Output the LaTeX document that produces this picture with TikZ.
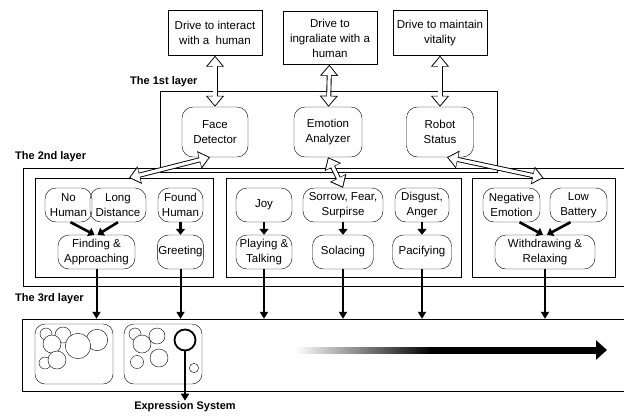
\documentclass[tikz,border=0pt]{standalone}
\usepackage{fontspec}
\setmainfont{Liberation Sans}
\usetikzlibrary{positioning,arrows.meta}

\tikzset{
  drive/.style={draw, align=center, minimum width=94pt, minimum height=45pt, inner sep=1pt, font=\fontsize{11.5}{15}\selectfont},
  module/.style={draw, rounded corners=11pt, align=center, minimum height=34pt, inner sep=1pt, font=\fontsize{11.5}{15}\selectfont},
  group/.style={draw, minimum height=99pt},
  layer/.style={draw},
  layername/.style={anchor=west, inner sep=0pt, font=\bfseries\fontsize{11}{13}\selectfont},
  hollow/.style={white, line width=3.2pt, shorten <=1.4pt, shorten >=1.4pt,
    {Triangle[length=9pt,width=14pt]}-{Triangle[length=9pt,width=14pt]},
    preaction={draw=black, line width=5pt, shorten <=0pt, shorten >=0pt,
      {Triangle[length=11pt,width=17.5pt]}-{Triangle[length=11pt,width=17.5pt]}}},
  push/.style={line width=2.6pt, -{Triangle[length=6pt,width=9pt]}},
  feed/.style={line width=2pt, -{Triangle[length=7pt,width=8pt]}},
  blob/.style={draw, fill=white},
}

\begin{document}
\begin{tikzpicture}[x=1pt, y=-1pt, node distance=47pt, on grid]
\useasboundingbox (0,0) rectangle (624,416);
% drives
\node[drive]                    (drv1) at (215,33) {Drive to interact\\with a\ \ human};
\node[drive, minimum height=53pt] (drv2) at (330,38) {Drive to\\ingraliate with a\\human};
\node[drive]                    (drv3) at (440,33) {Drive to maintain\\vitality};

% the 1st layer
\node[layer, minimum width=337pt, minimum height=81pt] (lay1) at (328.5,131.5) {};
\node[layername] (name1) at (130,82) {The 1st layer};
\node[module, minimum width=66pt, minimum height=50pt] (face)  at (215,132) {Face\\Detector};
\node[module, minimum width=68pt, minimum height=50pt] (emo)   at (328,132) {Emotion\\Analyzer};
\node[module, minimum width=67pt, minimum height=50pt] (robot) at (440,132) {Robot\\Status};

% the 2nd layer
\node[layer, minimum width=627pt, minimum height=118pt] (lay2) at (336.5,227) {};
\node[layername] (name2) at (15,157) {The 2nd layer};
\node[group, minimum width=178pt] (g1) at (124,227.5) {};
\node[group, minimum width=235pt] (g2) at (343.5,227.5) {};
\node[group, minimum width=143pt] (g3) at (543.5,227.5) {};

\node[module, minimum width=47pt]  (nohum)    at (68.5,205)  {No\\Human};
\node[module, minimum width=56pt]  (longd)    at (118,205)   {Long\\Distance};
\node[module, minimum width=45pt]  (found)    at (180.5,205) {Found\\Human};
\node[module, minimum width=77pt]  (finding)  at (96.5,252)  {Finding \&\\Approaching};
\node[module, minimum width=46pt]  (greet)    [below=of found]  {Greeting};
\node[module, minimum width=56pt]  (joy)      at (264,205)   {Joy};
\node[module, minimum width=56pt]  (play)     [below=of joy]    {Playing \&\\Talking};
\node[module, minimum width=80pt]  (sorrow)   at (343,205)   {Sorrow, Fear,\\Surpirse};
\node[module, minimum width=61pt]  (solace)   [below=of sorrow] {Solacing};
\node[module, minimum width=54pt]  (disg)     at (422,205)   {Disgust,\\Anger};
\node[module, minimum width=59pt]  (pacify)   [below=of disg]   {Pacifying};
\node[module, minimum width=57pt]  (nege)     at (511.5,205) {Negative\\Emotion};
\node[module, minimum width=57pt]  (lowb)     at (578.5,205) {Low\\Battery};
\node[module, minimum width=100pt] (withdraw) at (545,252)   {Withdrawing \&\\Relaxing};

% the 3rd layer
\node[layer, minimum width=628pt, minimum height=72pt] (lay3) at (336,355) {};
\node[layername] (name3) at (15,299) {The 3rd layer};
\node[draw, rounded corners=10pt, minimum width=78pt, minimum height=60pt] (pool1) at (74,354) {};
\node[draw, rounded corners=10pt, minimum width=78pt, minimum height=60pt] (pool2) at (163,354) {};
\foreach \cx/\cy/\r in {46/334/6, 45/363/6, 63/335/8, 52/344/9, 57/360/9, 97/340/10.7, 78/346/12.7,
                        135/334/6, 137/362/6.5, 157/336/8, 142/344/9, 159/358/9, 194/368/4.7}
  \draw[blob] (\cx,\cy) circle[radius=\r];
\node[draw, circle, line width=1.8pt, minimum size=21pt, inner sep=0pt] (focus) at (185,340) {};
\node[inner sep=1pt, font=\bfseries\fontsize{11}{13}\selectfont] (expr) at (185,407) {Expression System};

% trend arrow
\coordinate (fadeM) at (430,350);
\coordinate (fadeR) at (607,350);
\shade[left color=white, right color=black] (295,347) rectangle (432,353);
\draw[line width=7pt, -{Triangle[length=11pt,width=19pt]}] (fadeM) -- (fadeR);

% hollow links
\draw[hollow] (drv1) -- (face);
\draw[hollow] (drv2) -- (emo);
\draw[hollow] (drv3) -- (robot);
\draw[hollow] ([xshift=-5pt]face.south) -- ([xshift=5pt]g1.north);
\draw[hollow] (emo.south) -- (sorrow.north);
\draw[hollow] ([xshift=7pt]robot.south) -- (g3.north);

% behaviours
\draw[push] ([xshift=2pt]nohum.south) -- ([xshift=-2pt]finding.north);
\draw[push] (longd.south) -- ([xshift=1pt]finding.north);
\draw[push] (found) -- (greet);
\draw[push] (joy) -- (play);
\draw[push] (sorrow) -- (solace);
\draw[push] (disg) -- (pacify);
\draw[push] ([xshift=8pt]nege.south) -- ([xshift=-2pt]withdraw.north);
\draw[push] ([xshift=-8pt]lowb.south) -- ([xshift=2pt]withdraw.north);

\foreach \m in {finding,greet,play,solace,pacify,withdraw}
  \draw[feed] (\m) -- (\m |- lay3.north);
\draw[feed] (focus) -- (expr);
\end{tikzpicture}
\end{document}
